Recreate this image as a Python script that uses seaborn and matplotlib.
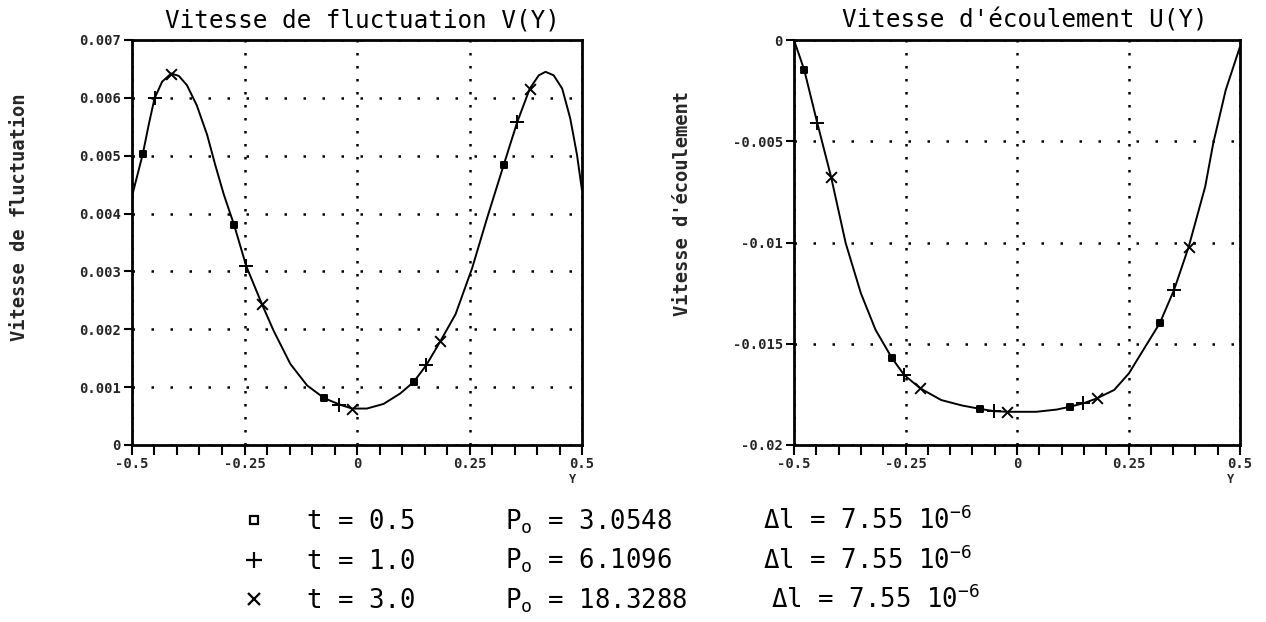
import matplotlib
matplotlib.use("Agg")
import matplotlib.pyplot as plt
from matplotlib.lines import Line2D
from matplotlib.ticker import MultipleLocator
import pandas as pd
import seaborn as sns

# ---- fluctuation velocity V(Y): continuous profile ----
curve_y_v = [-0.5, -0.476, -0.463, -0.450, -0.433, -0.413, -0.396, -0.378, -0.356,
             -0.333, -0.315, -0.296, -0.273, -0.246, -0.211, -0.185, -0.148, -0.111,
             -0.073, -0.039, -0.011, 0.022, 0.059, 0.096, 0.126, 0.154, 0.185, 0.219,
             0.256, 0.289, 0.326, 0.356, 0.384, 0.404, 0.419, 0.437, 0.456, 0.474,
             0.489, 0.5]
curve_v = [0.00430, 0.00503, 0.00553, 0.00599, 0.00628, 0.00642, 0.00638, 0.00622, 0.00587,
           0.00536, 0.00484, 0.00433, 0.00380, 0.00309, 0.00243, 0.00197, 0.00140, 0.00103,
           0.00081, 0.00070, 0.00063, 0.00063, 0.00071, 0.00089, 0.00109, 0.00138, 0.00179,
           0.00226, 0.00306, 0.00392, 0.00484, 0.00558, 0.00616, 0.00639, 0.00645, 0.00639,
           0.00616, 0.00564, 0.00501, 0.00440]

# ---- flow velocity U(Y): continuous profile ----
curve_y_u = [-0.5, -0.477, -0.448, -0.417, -0.384, -0.350, -0.317, -0.280, -0.253,
             -0.217, -0.170, -0.123, -0.082, -0.051, -0.022, 0.043, 0.089, 0.119,
             0.149, 0.179, 0.218, 0.251, 0.283, 0.320, 0.352, 0.385, 0.422, 0.440,
             0.468, 0.5]
curve_u = [0.0, -0.00148, -0.00408, -0.00675, -0.01004, -0.01251, -0.01432, -0.01572, -0.01654,
           -0.01720, -0.01778, -0.01805, -0.01822, -0.01833, -0.01836, -0.01836, -0.01825, -0.01811,
           -0.01794, -0.01770, -0.01728, -0.01646, -0.01531, -0.01399, -0.01235, -0.01021, -0.00724,
           -0.00510, -0.00247, -0.00033]

# ---- sampled points for each time step ----
times = ["0.5", "1.0", "3.0"]
pressures = ["3.0548", "6.1096", "18.3288"]
delta_l = ["7.55", "7.55", "7.55"]
marker_styles = ["s", "+", "x"]

v_y_t05 = [-0.476, -0.273, -0.073, 0.126, 0.326]
v_t05 = [0.00503, 0.00380, 0.00081, 0.00109, 0.00484]
v_y_t10 = [-0.450, -0.246, -0.039, 0.154, 0.356]
v_t10 = [0.00599, 0.00309, 0.00070, 0.00138, 0.00558]
v_y_t30 = [-0.413, -0.211, -0.011, 0.185, 0.384]
v_t30 = [0.00642, 0.00243, 0.00063, 0.00179, 0.00616]

u_y_t05 = [-0.477, -0.280, -0.082, 0.119, 0.320]
u_t05 = [-0.00148, -0.01572, -0.01822, -0.01811, -0.01399]
u_y_t10 = [-0.448, -0.253, -0.051, 0.149, 0.352]
u_t10 = [-0.00408, -0.01654, -0.01833, -0.01794, -0.01235]
u_y_t30 = [-0.417, -0.217, -0.022, 0.179, 0.385]
u_t30 = [-0.00675, -0.01720, -0.01836, -0.01770, -0.01021]

# ---- axes ticks ----
x_ticks = [-0.5, -0.25, 0, 0.25, 0.5]
x_tick_labels = ["-0.5", "-0.25", "0", "0.25", "0.5"]
v_ticks = [0, 0.001, 0.002, 0.003, 0.004, 0.005, 0.006, 0.007]
v_tick_labels = ["0", "0.001", "0.002", "0.003", "0.004", "0.005", "0.006", "0.007"]
u_ticks = [-0.02, -0.015, -0.01, -0.005, 0]
u_tick_labels = ["-0.02", "-0.015", "-0.01", "-0.005", "0"]

sns.set_theme(style="white")
plt.rcParams["font.family"] = ["DejaVu Sans Mono", "DejaVu Sans"]
plt.rcParams["axes.edgecolor"] = "black"
plt.rcParams["text.color"] = "black"

W, H = 1266, 622
fig = plt.figure(figsize=(W / 100, H / 100), dpi=100, facecolor="white")


def frac(x0, y_top, w, h):
    return [x0 / W, 1 - (y_top + h) / H, w / W, h / H]


ax_v = fig.add_axes(frac(132, 40, 450, 405))
ax_u = fig.add_axes(frac(794, 40, 446, 405))

v_points = pd.DataFrame({
    "Y": v_y_t05 + v_y_t10 + v_y_t30,
    "val": v_t05 + v_t10 + v_t30,
    "t": [times[0]] * 5 + [times[1]] * 5 + [times[2]] * 5,
})
u_points = pd.DataFrame({
    "Y": u_y_t05 + u_y_t10 + u_y_t30,
    "val": u_t05 + u_t10 + u_t30,
    "t": [times[0]] * 5 + [times[1]] * 5 + [times[2]] * 5,
})

marker_sizes = {"s": 22, "+": 90, "x": 60}


def draw_panel(ax, cy, cv, pts, ticks, tick_labels, ylim, title, title_x, ylabel, ylabel_xy):
    sns.lineplot(x=cy, y=cv, ax=ax, color="black", linewidth=1.4, estimator=None)
    for t, m in zip(times, marker_styles):
        sub = pts[pts["t"] == t]
        kw = dict(marker=m, s=marker_sizes[m], color="black", linewidth=1.4, zorder=4)
        if m == "s":
            kw["edgecolor"] = "black"
        sns.scatterplot(data=sub, x="Y", y="val", ax=ax, legend=False, **kw)

    ax.set_xlim(-0.5, 0.5)
    ax.set_ylim(*ylim)
    ax.set_xticks(x_ticks)
    ax.set_xticklabels(x_tick_labels)
    ax.xaxis.set_minor_locator(MultipleLocator(0.05))
    ax.set_yticks(ticks)
    ax.set_yticklabels(tick_labels)

    for lab in ax.get_xticklabels() + ax.get_yticklabels():
        lab.set_fontweight("bold")
        lab.set_fontsize(10)
    ax.tick_params(axis="x", which="both", direction="out", length=7, width=1.5,
                   color="black", pad=2, bottom=True)
    ax.tick_params(axis="y", which="major", direction="out", length=6, width=1.5,
                   color="black", pad=2, left=True)

    for sp in ax.spines.values():
        sp.set_linewidth(2.0)
        sp.set_color("black")

    ax.xaxis.grid(True, which="major", color="black", linewidth=1.8, linestyle=(0, (1, 4.2)))
    ax.yaxis.grid(True, which="major", color="black", linewidth=1.8, linestyle=(0, (1, 6.6)))
    ax.set_axisbelow(True)

    ttl = ax.set_title(title, fontsize=17.5, pad=9)
    ttl.set_x(title_x)

    ax.set_ylabel(ylabel, fontsize=13.5, fontweight="bold")
    ax.yaxis.set_label_coords(*ylabel_xy)
    ax.yaxis.label.set_va("center")

    ax.set_xlabel("Y", fontsize=8.5, fontweight="bold")
    ax.xaxis.set_label_coords(0.978, -0.085)
    ax.xaxis.label.set_va("center")


draw_panel(ax_v, curve_y_v, curve_v, v_points, v_ticks, v_tick_labels, (0, 0.007),
           "Vitesse de fluctuation V(Y)", 0.513, "Vitesse de fluctuation",
           ((20 - 132) / 450, (445 - 217) / 405))
draw_panel(ax_u, curve_y_u, curve_u, u_points, u_ticks, u_tick_labels, (-0.02, 0),
           "Vitesse d'écoulement U(Y)", 0.518, "Vitesse d'écoulement",
           ((682 - 794) / 446, (445 - 203) / 405))

# ---- legend: symbol + time, then pressure and length step columns ----
handles = [Line2D([], [], linestyle="none", marker=m, color="black",
                  markersize={"s": 6, "+": 12, "x": 8}[m],
                  markerfacecolor="white" if m == "s" else "black",
                  markeredgewidth=1.6)
           for m in marker_styles]
leg = fig.legend(handles, [f"t = {t}" for t in times],
                 loc="upper left", bbox_to_anchor=(241 / W, 1 - 509 / H),
                 frameon=False, prop={"family": "DejaVu Sans Mono", "size": 18.5},
                 handlelength=1.0, handletextpad=1.55, labelspacing=0.53,
                 borderpad=0, borderaxespad=0)

fig.canvas.draw()
inv = fig.transFigure.inverted()
col_p = 505 / W
col_dl = [763 / W, 763 / W, 771 / W]
for i, txt in enumerate(leg.get_texts()):
    bx, by = txt.get_transform().transform(txt.get_position())
    _, fy = inv.transform((bx, by))
    fig.text(col_p, fy, r"P$_\mathregular{o}$ = " + pressures[i], fontsize=18.5,
             va="baseline", ha="left", family="DejaVu Sans Mono")
    fig.text(col_dl[i], fy, "Δl = " + delta_l[i] + r" 10$^\mathregular{-6}$", fontsize=18.5,
             va="baseline", ha="left", family="DejaVu Sans Mono")

fig.savefig("out.png", dpi=100, facecolor="white")
